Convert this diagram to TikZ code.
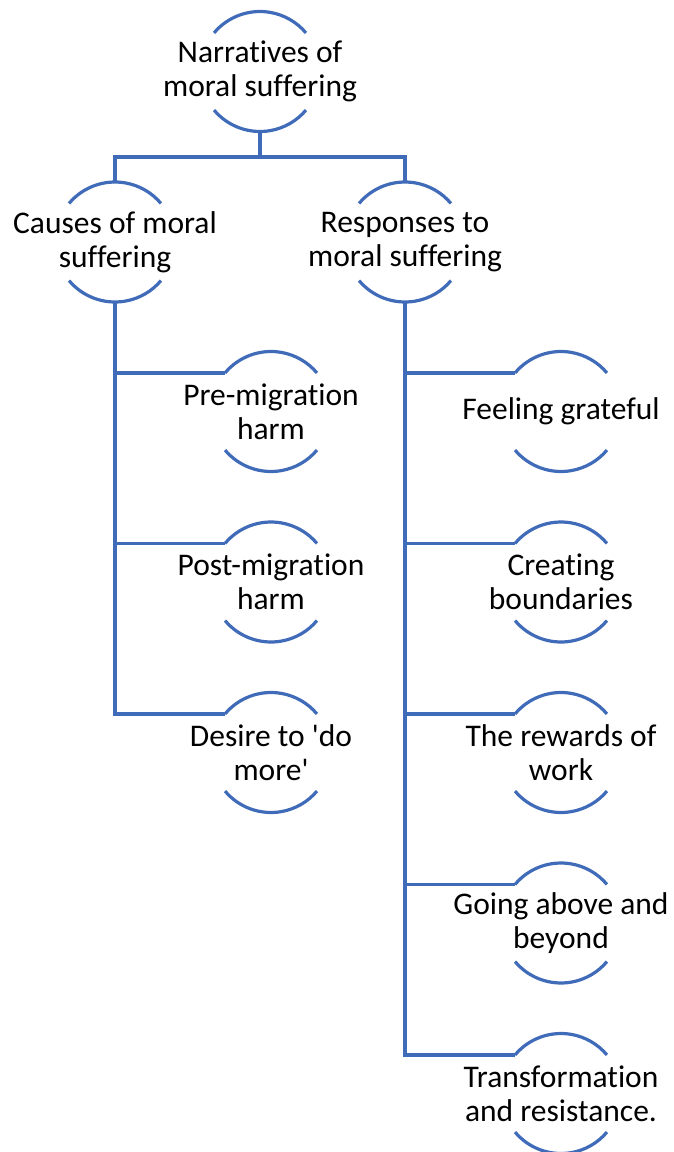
\documentclass[tikz,border=0pt]{standalone}
\usepackage{fontspec}
\setmainfont{Carlito}[Ligatures=NoCommon]
\definecolor{chartblue}{HTML}{406BB9}
\tikzset{
  x=1pt, y=1pt,
  link/.style={draw=chartblue, line width=3.2pt},
  nodetext/.style={font=\fontsize{31.5}{34}\selectfont, align=center, text=black, inner sep=0pt},
  % a half-circle box: an arc above and an arc below the text
  halfcircle/.pic={
    \coordinate (-c) at (0,0);
    \coordinate (-t) at (0pt,60pt);
    \coordinate (-b) at (0pt,-60pt);
    \coordinate (-l) at (140:60pt);
    \draw[link] (140:60pt) arc[start angle=140, end angle=40, radius=60pt];
    \draw[link] (220:60pt) arc[start angle=220, end angle=320, radius=60pt];
    \node[nodetext] (-text) at (0,0) {#1};
  }
}
\begin{document}
\begin{tikzpicture}
\useasboundingbox (0,0) rectangle (673,-1152);

% root
\pic (root) at (260,-71.5) {halfcircle={Narratives of\\moral suffering}};

% second level
\pic (causes) at (115,-242) {halfcircle={Causes of moral\\suffering}};
\pic (resp) at (405,-242) {halfcircle={Responses to\\moral suffering}};

% causes
\pic (pre) at (271,-411.5) {halfcircle={Pre-migration\\harm}};
\pic (post) at (271,-582) {halfcircle={Post-migration\\harm}};
\pic (desire) at (271,-752.5) {halfcircle={Desire to \textquotesingle do\\more\textquotesingle}};

% responses
\pic (grateful) at (561,-411.5) {halfcircle={Feeling grateful}};
\pic (bound) at (561,-582) {halfcircle={Creating\\boundaries}};
\pic (reward) at (561,-752.5) {halfcircle={The rewards of\\work}};
\pic (beyond) at (561,-923) {halfcircle={Going above and\\beyond}};
\pic (transf) at (561,-1093.5) {halfcircle={Transformation\\and resistance.}};

% root to second level
\draw[link] (root-b) -- ++(0,-25.5) coordinate (bar);
\draw[link] (causes-t) -- (causes-t |- bar) -- (resp-t |- bar) -- (resp-t);

% causes branch: one trunk, then the side links
\draw[link] (causes-b) |- (desire-l);
\foreach \n in {pre,post}
  \draw[link] (causes-b |- \n-l) -- (\n-l);

% responses branch
\draw[link] (resp-b) |- (transf-l);
\foreach \n in {grateful,bound,reward,beyond}
  \draw[link] (resp-b |- \n-l) -- (\n-l);
\end{tikzpicture}
\end{document}
